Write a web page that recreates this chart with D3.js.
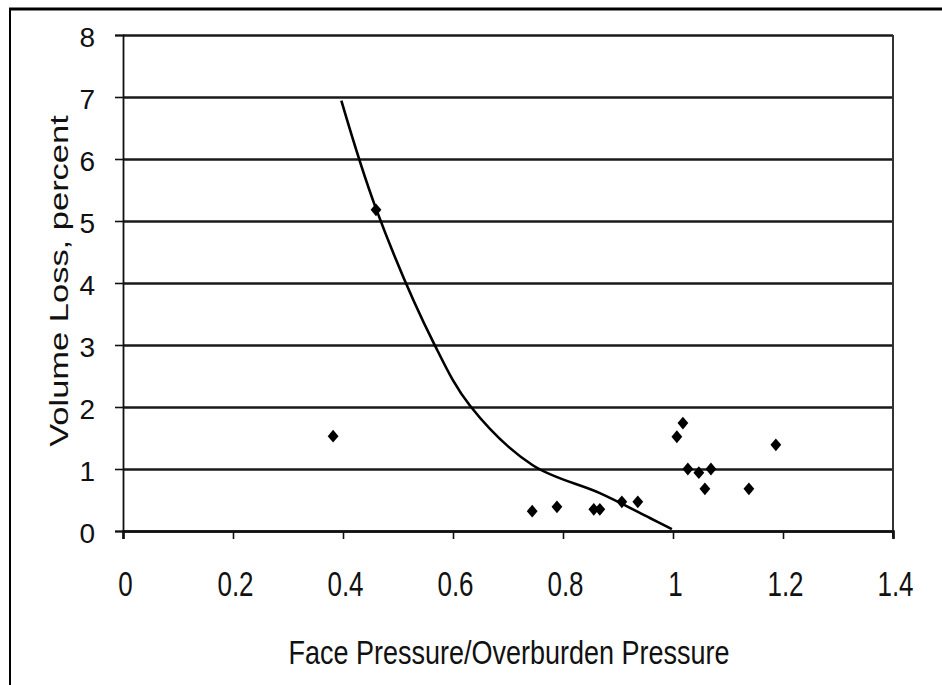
<!DOCTYPE html>
<html><head><meta charset="utf-8">
<script src="https://cdn.jsdelivr.net/npm/d3@7"></script>
<style>html,body{margin:0;padding:0;background:#fff;}svg{display:block;}</style>
</head><body>
<script>
// Data
const pointX = [0.382, 0.46, 0.744, 0.789, 0.856, 0.867, 0.907, 0.936, 1.007, 1.018, 1.027, 1.047, 1.069, 1.058, 1.138, 1.187];
const pointY = [1.53, 5.18, 0.32, 0.39, 0.35, 0.35, 0.47, 0.47, 1.52, 1.74, 1.0, 0.94, 1.0, 0.68, 0.68, 1.39];
const curveX = [0.397, 0.46, 0.565, 0.631, 0.745, 0.867, 0.958, 0.998];
const curveY = [6.94, 5.2, 3.03, 2.02, 1.06, 0.61, 0.21, 0.03];
const xTicks = [0, 0.2, 0.4, 0.6, 0.8, 1, 1.2, 1.4];
const yTicks = [0, 1, 2, 3, 4, 5, 6, 7, 8];
const xTitle = "Face Pressure/Overburden Pressure";
const yTitle = "Volume Loss, percent";

const W = 942, H = 685;
const m = {left: 123, right: 893, top: 35, bottom: 531};
const font = "'Liberation Sans', Arial, sans-serif";

const svg = d3.select("body").append("svg").attr("width", W).attr("height", H);

// outer frame
svg.append("line").attr("x1", 9).attr("x2", W).attr("y1", 9).attr("y2", 9)
  .attr("stroke", "#000").attr("stroke-width", 3);
svg.append("line").attr("x1", 10).attr("x2", 10).attr("y1", 8).attr("y2", H)
  .attr("stroke", "#000").attr("stroke-width", 2);

const x = d3.scaleLinear().domain([0, 1.4]).range([m.left, m.right]);
const y = d3.scaleLinear().domain([0, 8]).range([m.bottom, m.top]);

// gridlines
const grid = svg.append("g").attr("transform", `translate(${m.left},0)`)
  .call(d3.axisLeft(y).tickValues(yTicks).tickSize(-(m.right - m.left)).tickFormat(""));
grid.select(".domain").remove();
grid.selectAll("line").attr("stroke", "#1a1a1a").attr("stroke-width", 2.6);

// right border of plot
svg.append("line").attr("x1", m.right).attr("x2", m.right).attr("y1", m.top).attr("y2", m.bottom + 6)
  .attr("stroke", "#333").attr("stroke-width", 2);

// y axis
const ya = svg.append("g").attr("transform", `translate(${m.left},0)`)
  .call(d3.axisLeft(y).tickValues(yTicks).tickSize(8).tickPadding(20).tickFormat(d3.format("d")));
ya.select(".domain").attr("stroke", "#111").attr("stroke-width", 1.8);
ya.selectAll("line").attr("stroke", "#111").attr("stroke-width", 1.6);
ya.selectAll("text").attr("font-family", font).attr("font-size", 28).attr("fill", "#111")
  .attr("dy", "0.42em");

// x axis
const xa = svg.append("g").attr("transform", `translate(0,${m.bottom})`)
  .call(d3.axisBottom(x).tickValues(xTicks).tickSize(8).tickFormat(d => d3.format("")(+d.toFixed(1))));
xa.select(".domain").attr("stroke", "#111").attr("stroke-width", 2.6);
xa.selectAll("line").attr("stroke", "#111").attr("stroke-width", 1.6);
xa.selectAll("text").attr("font-family", font).attr("font-size", 26).attr("fill", "#111")
  .attr("y", 0).attr("dy", null).attr("dx", 2)
  .attr("transform", "translate(0,65) scale(1,1.33)");

// curve
const line = d3.line().x((d, i) => x(curveX[i])).y((d, i) => y(curveY[i])).curve(d3.curveCatmullRom.alpha(0.5));
svg.append("path").attr("d", line(curveX)).attr("fill", "none")
  .attr("stroke", "#000").attr("stroke-width", 2.6);

// diamond points
const diamond = {draw(ctx, size) { const w = 5.4, h = 6.4; ctx.moveTo(0, -h); ctx.lineTo(w, 0); ctx.lineTo(0, h); ctx.lineTo(-w, 0); ctx.closePath(); }};
svg.append("g").selectAll("path").data(pointX).join("path")
  .attr("d", d3.symbol(diamond))
  .attr("transform", (d, i) => `translate(${x(pointX[i])},${y(pointY[i])})`)
  .attr("fill", "#000");

// axis titles
svg.append("text").attr("font-family", font).attr("font-size", 27).attr("fill", "#111")
  .attr("text-anchor", "middle")
  .attr("transform", `translate(509,664) scale(1,1.24)`)
  .text(xTitle);
svg.append("text").attr("font-family", font).attr("font-size", 25).attr("fill", "#111")
  .attr("text-anchor", "middle")
  .attr("transform", `translate(68,281) rotate(-90) scale(1.38,1)`)
  .text(yTitle);
</script>
</body></html>
